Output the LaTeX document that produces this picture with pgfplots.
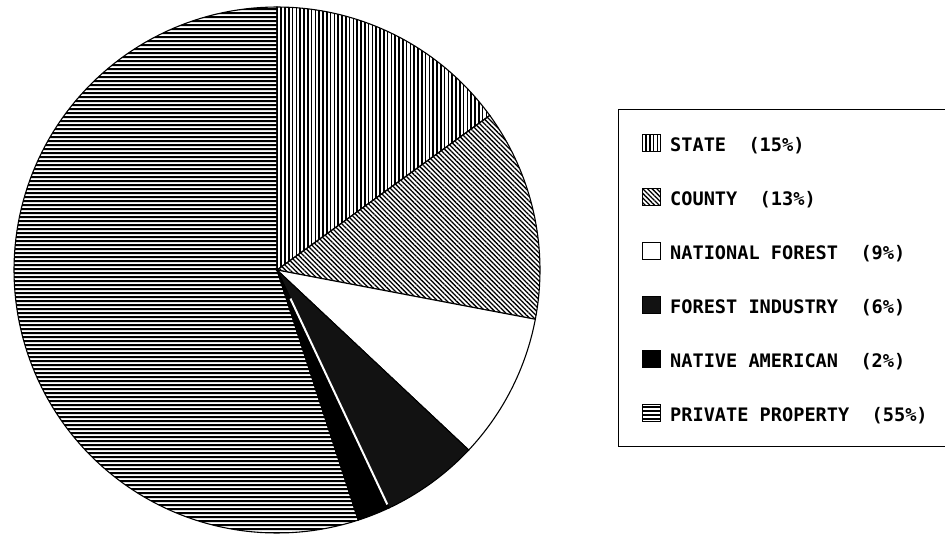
\documentclass[border=0pt]{standalone}
\usepackage{pgfplots}
\pgfplotsset{compat=1.18}
\usepgfplotslibrary{polar}
\usetikzlibrary{patterns.meta}
\usepackage{fontspec}
\newfontfamily\legfont{DejaVu Sans Mono}
\newcommand\msp{\hspace*{0.602em}}
\pgfplotsset{
  wedge/.style={draw=black, line width=1.1bp},
  statestyle/.style={wedge, pattern={Lines[angle=90,distance=3.8bp,line width=1.5bp]}, pattern color=black},
  countystyle/.style={wedge, pattern={Lines[angle=-45,distance=3.3bp,line width=1.3bp]}, pattern color=black},
  natforstyle/.style={wedge, fill=white},
  forindstyle/.style={wedge, fill=black!93},
  nativestyle/.style={wedge, fill=black},
  privstyle/.style={wedge, pattern={Lines[angle=0,distance=3.9bp,line width=1.9bp]}, pattern color=black},
}
\begin{document}
\begin{tikzpicture}
\clip (0,0) rectangle (945bp,540bp);
\begin{polaraxis}[
  at={(277bp,270bp)}, anchor=center,
  width=526bp, height=526bp, scale only axis,
  xmin=0, xmax=360, ymin=0, ymax=1,
  hide axis, clip=false,
  legend cell align=left,
  legend image code/.code={\draw[#1] (0bp,-6.5bp) rectangle (18bp,10.5bp); \path[draw=none] (0bp,0bp) (28bp,0bp);},
  legend style={at={(axis description cs:1.1483,0.8061)}, anchor=north west,
    draw=black, line width=1.2bp, inner xsep=23bp, inner ysep=24bp, row sep=36bp,
    nodes={inner sep=0pt, text height=13bp, text depth=0pt,
      font=\legfont\bfseries\fontsize{18.6bp}{20bp}\selectfont},
    /tikz/every even column/.append style={text width=258bp}},
]
% STATE 15% : 90 -> 36
\addplot[statestyle, domain=36:90, samples=40] {1} -- (axis cs:0,0) -- cycle;
\addlegendentry{STATE\msp\msp(15\%)}
% COUNTY 13% : 36 -> -10.8
\addplot[countystyle, domain=-10.8:36, samples=40] {1} -- (axis cs:0,0) -- cycle;
\addlegendentry{COUNTY\msp\msp(13\%)}
% NATIONAL FOREST 9% : -10.8 -> -43.2
\addplot[natforstyle, domain=-43.2:-10.8, samples=30] {1} -- (axis cs:0,0) -- cycle;
\addlegendentry{NATIONAL\msp FOREST\msp\msp(9\%)}
% FOREST INDUSTRY 6% : -43.2 -> -64.8
\addplot[forindstyle, domain=-64.8:-43.2, samples=25] {1} -- (axis cs:0,0) -- cycle;
\addlegendentry{FOREST\msp INDUSTRY\msp\msp(6\%)}
% NATIVE AMERICAN 2% : -64.8 -> -72
\addplot[nativestyle, domain=-72:-64.8, samples=10] {1} -- (axis cs:0,0) -- cycle;
\addlegendentry{NATIVE\msp AMERICAN\msp\msp(2\%)}
% PRIVATE PROPERTY 55% : -72 -> -270
\addplot[privstyle, domain=-270:-72, samples=120] {1} -- (axis cs:0,0) -- cycle;
\addlegendentry{PRIVATE\msp PROPERTY\msp\msp(55\%)}
% light boundary between forest industry and native american
\addplot[white, line width=2bp, forget plot] coordinates {(-64.8,0.12) (-64.8,0.985)};
\end{polaraxis}
\end{tikzpicture}
\end{document}
